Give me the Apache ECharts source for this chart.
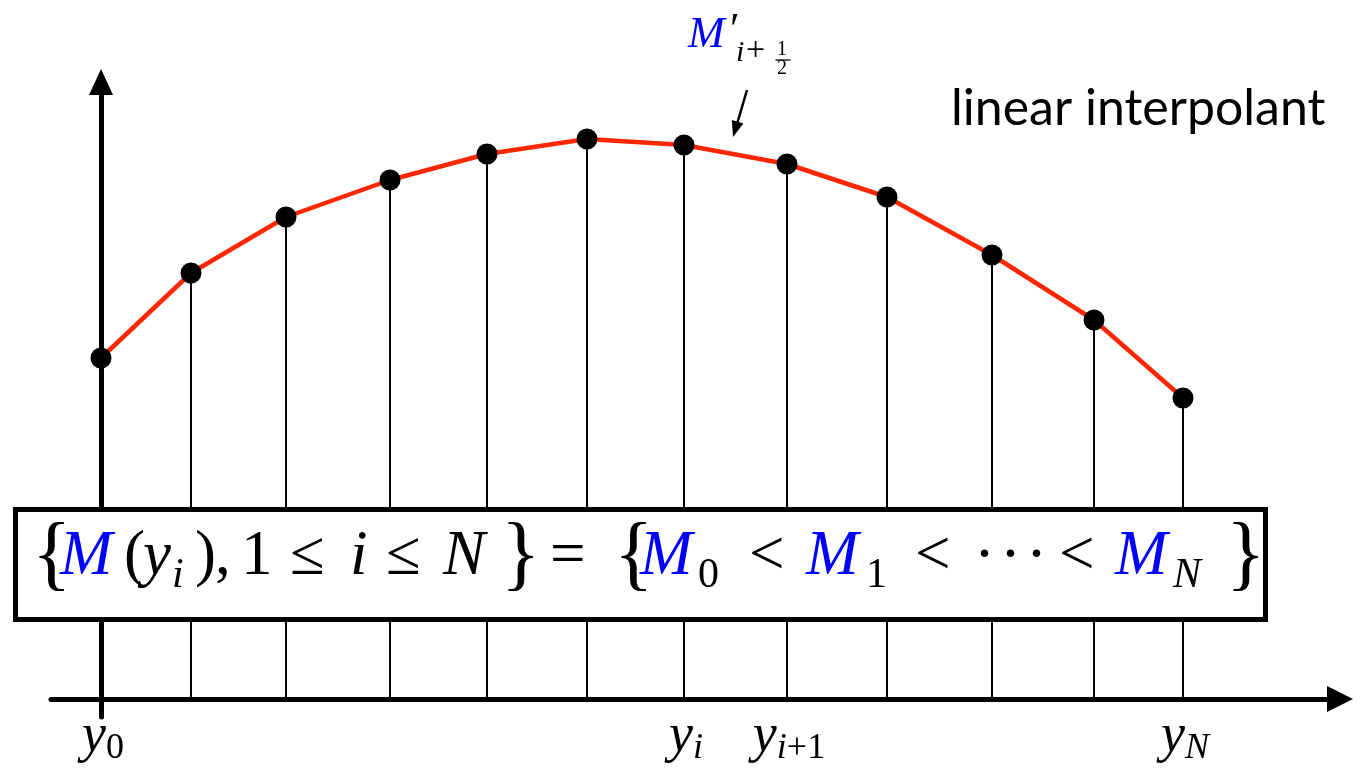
<!DOCTYPE html>
<html>
<head>
<meta charset="utf-8">
<title>linear interpolant</title>
<script src="https://cdn.jsdelivr.net/npm/echarts@6/dist/echarts.min.js"></script>
<style>
  html, body { margin: 0; padding: 0; background: #fff; }
  #main { width: 1367px; height: 777px; }
</style>
</head>
<body>
<div id="main"></div>
<script>
// node positions y_0 .. y_N (distance from the origin) and the value M(y_i) at each node
var nodeX = [0, 90, 185, 289, 386, 486, 583, 686, 786, 891, 993, 1082];
var nodeM = [341, 426, 482, 519, 545, 560, 554, 535, 502, 444, 379, 301];
// nodes that get a label under the axis, and their subscripts
var tickNodes = [0, 6, 7, 11];
var tickSubs = ['0', 'i', 'i+1', 'N'];

var SERIF = '"Liberation Serif", "DejaVu Serif", serif';
var BLUE = '#0000ff';

var chart = echarts.init(document.getElementById('main'));

var points = nodeX.map(function (x, i) { return [x, nodeM[i]]; });

var option = {
    animation: false,
    backgroundColor: '#fff',
    grid: { left: 51, right: 27, top: 82, bottom: 60 },
    xAxis: {
        type: 'value',
        min: -50,
        max: 1239,
        axisLine: {
            onZero: true,
            lineStyle: { color: '#000', width: 5 },
            symbol: ['none', 'triangle'],
            symbolSize: [26, 26]
        },
        axisTick: { show: false },
        axisLabel: { show: false },
        splitLine: { show: false }
    },
    yAxis: {
        type: 'value',
        min: -18,
        max: 617,
        axisLine: {
            show: true,
            onZero: true,
            lineStyle: { color: '#000', width: 5 },
            symbol: ['none', 'triangle'],
            symbolSize: [24, 26]
        },
        axisTick: { show: false },
        axisLabel: { show: false },
        splitLine: { show: false }
    },
    series: [
        {
            // vertical stems from each node up to its value
            type: 'bar',
            data: points,
            barWidth: 2,
            itemStyle: { color: '#000' },
            silent: true
        },
        {
            type: 'line',
            data: points,
            symbol: 'circle',
            symbolSize: 21,
            itemStyle: { color: '#000' },
            lineStyle: { color: '#ff2600', width: 4.5 },
            z: 5
        }
    ]
};
chart.setOption(option);

// ---- annotations ----
var graphics = [];

function txt(s, x, y, size, opts) {
    opts = opts || {};
    graphics.push({
        type: 'text',
        x: x,
        y: y,
        z: 101,
        style: {
            text: s,
            fontSize: size,
            fontFamily: opts.family || SERIF,
            fontStyle: opts.italic ? 'italic' : 'normal',
            fill: opts.color || '#000',
            align: 'left',
            verticalAlign: 'middle'
        }
    });
}

// box around the formula
graphics.push({
    type: 'rect',
    z: 100,
    shape: { x: 15.5, y: 509.5, width: 1250, height: 110 },
    style: { fill: '#fff', stroke: '#000', lineWidth: 5 }
});

// formula: {M(y_i), 1 <= i <= N} = {M_0 < M_1 < ... < M_N}
var F = 63, FS = 42, FB = 82;
var yMain = 579 - 0.3375 * F;
var ySub = 590 - 0.3375 * FS;
var yBrace = 558;
var formula = [
    ['{', 32, 'b'], ['M', 60, 'm'], ['(', 124, 'r'], ['y', 143, 'i'], ['i', 172, 'si'],
    [')', 195, 'r'], [',', 215, 'r'], ['1', 241, 'r'], ['\u2264', 290, 'r'], ['i', 350, 'i'],
    ['\u2264', 386, 'r'], ['N', 443, 'i'], ['}', 501, 'b'], ['=', 550, 'r'], ['{', 614, 'b'],
    ['M', 640, 'm'], ['0', 698, 'sr'], ['<', 749, 'r'], ['M', 806, 'm'], ['1', 866, 'sr'],
    ['<', 915, 'r'], ['\u00b7', 974, 'r'], ['\u00b7', 1000, 'r'], ['\u00b7', 1026, 'r'],
    ['<', 1059, 'r'], ['M', 1115, 'm'], ['N', 1173, 'si'], ['}', 1226, 'b']
];
formula.forEach(function (a) {
    var k = a[2];
    if (k === 'b') txt(a[0], a[1], yBrace, FB);
    else if (k === 'm') txt(a[0], a[1], yMain, F, { italic: true, color: BLUE });
    else if (k === 'i') txt(a[0], a[1], yMain, F, { italic: true });
    else if (k === 'r') txt(a[0], a[1], yMain, F);
    else if (k === 'si') txt(a[0], a[1], ySub, FS, { italic: true });
    else txt(a[0], a[1], ySub, FS);
});

// "linear interpolant"
txt('linear interpolant', 951, 109, 50, { family: 'Lato, "Open Sans", sans-serif' });

// M'_{i+1/2} label with its arrow
txt('M', 688, 50 - 0.3375 * 44, 44, { italic: true, color: BLUE });
txt('\u2032', 730, 31, 44);
txt('i', 736, 63 - 0.3375 * 30, 30, { italic: true });
txt('+', 746, 63 - 0.3375 * 34, 34);
txt('1', 777, 56 - 0.3375 * 20, 20);
txt('2', 777, 75 - 0.3375 * 20, 20);
graphics.push({
    type: 'line', z: 101,
    shape: { x1: 775.5, y1: 60, x2: 790.5, y2: 60 },
    style: { stroke: '#000', lineWidth: 1.3 }
});
graphics.push({
    type: 'line', z: 101,
    shape: { x1: 747, y1: 90, x2: 737, y2: 124 },
    style: { stroke: '#000', lineWidth: 2.5 }
});
graphics.push({
    type: 'polygon', z: 101,
    shape: { points: [[733, 137], [743.4, 123.4], [731.8, 120]] },
    style: { fill: '#000' }
});

// node labels under the axis, placed through the axis scale
tickNodes.forEach(function (k, j) {
    var p = chart.convertToPixel({ gridIndex: 0 }, [nodeX[k], 0]);
    var sub = tickSubs[j];
    var s = '{y|y}';
    if (sub === 'i+1') s += '{si|i}{sr|+1}';
    else if (sub === '0') s += '{sr|0}';
    else s += '{si|' + sub + '}';
    graphics.push({
        type: 'text',
        x: p[0] + 2,
        y: 737,
        z: 101,
        style: {
            text: s,
            align: 'center',
            verticalAlign: 'middle',
            rich: {
                y: { fontSize: 54, fontFamily: SERIF, fontStyle: 'italic', lineHeight: 60, fill: '#000' },
                si: { fontSize: 36, fontFamily: SERIF, fontStyle: 'italic', lineHeight: 28, verticalAlign: 'bottom', fill: '#000' },
                sr: { fontSize: 36, fontFamily: SERIF, lineHeight: 28, verticalAlign: 'bottom', fill: '#000' }
            }
        }
    });
});

chart.setOption({ graphic: graphics });
</script>
</body>
</html>
